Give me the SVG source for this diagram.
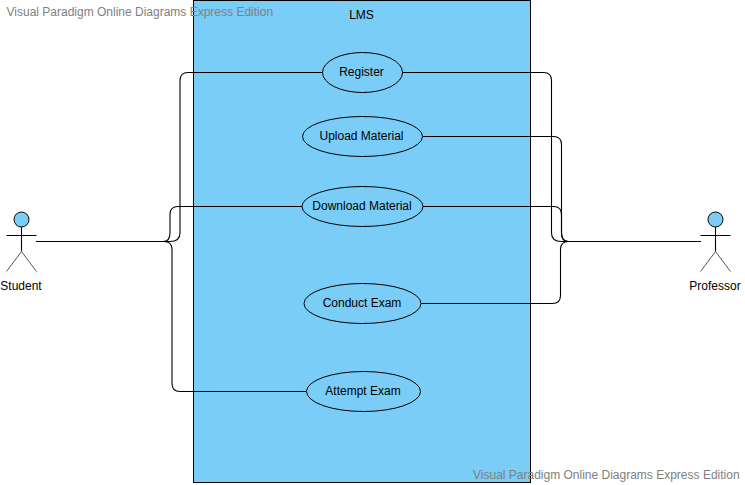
<svg xmlns="http://www.w3.org/2000/svg" width="745" height="485" viewBox="0 0 745 485">
<style>
text{font-family:"Liberation Sans",Arial,sans-serif;font-size:12px;fill:#000;text-anchor:middle}
.uc{fill:#79cdf6;stroke:#000;stroke-width:1}
.c{fill:none;stroke:#000;stroke-width:1.1}
.wm{fill:#808080;text-anchor:start}
.leg{fill:none;stroke:#555;stroke-width:1}
</style>
<rect width="745" height="485" fill="#fff"/>
<g id="system"><rect x="193.500" y="0.500" width="337" height="482" class="uc"/><text x="361.500" y="19">LMS</text></g>
<g id="connectors">
<path class="c" d="M36 241.500H170Q180 241.500 180 233V80.500Q180 72.500 188 72.500H322.500"/>
<path class="c" d="M36 241.500H163Q170 241.500 170 233V214.500Q170 206.500 178 206.500H302"/>
<path class="c" d="M36 241.500H164Q172 241.500 172 249.500V383.500Q172 391.500 180 391.500H306.500"/>
<path class="c" d="M701 241.500H561.500Q551.500 241.500 551.500 233V80.500Q551.500 72.500 543.500 72.500H402.500"/>
<path class="c" d="M701 241.500H568.500Q561.500 241.500 561.500 233V144.500Q561.500 136.500 553.500 136.500H422.500"/>
<path class="c" d="M701 241.500H568.500Q561.500 241.500 561.500 233V214.500Q561.500 206.500 553.500 206.500H423"/>
<path class="c" d="M701 241.500H568.500Q560.500 241.500 560.500 249.500V295.500Q560.500 303.500 552.500 303.500H421"/>
</g>
<g id="uc-register"><ellipse cx="362.500" cy="72.500" rx="40" ry="20" class="uc"/><text x="361.500" y="76">Register</text></g>
<g id="uc-upload"><ellipse cx="362.500" cy="136.500" rx="60" ry="20" class="uc"/><text x="361.500" y="140">Upload Material</text></g>
<g id="uc-download"><ellipse cx="362.500" cy="206.500" rx="60.500" ry="20" class="uc"/><text x="362" y="210">Download Material</text></g>
<g id="uc-conduct"><ellipse cx="362.500" cy="303.500" rx="58.500" ry="20" class="uc"/><text x="362" y="307">Conduct Exam</text></g>
<g id="uc-attempt"><ellipse cx="363.500" cy="391.500" rx="57" ry="20" class="uc"/><text x="363" y="395">Attempt Exam</text></g>
<g id="actor-student">
<circle cx="21.500" cy="219.500" r="7.500" class="uc"/>
<path class="c" d="M21.500 227V251.500M6.500 235.500H36.500"/>
<path class="leg" d="M21.500 251.500L6.500 271.500M21.500 251.500L36.500 271.500"/>
<text x="21" y="290">Student</text>
</g>
<g id="actor-professor">
<circle cx="715.500" cy="219.500" r="7.500" class="uc"/>
<path class="c" d="M715.500 227V251.500M700.500 235.500H730.500"/>
<path class="leg" d="M715.500 251.500L700.500 271.500M715.500 251.500L730.500 271.500"/>
<text x="715" y="290">Professor</text>
</g>
<text class="wm" x="6.500" y="16">Visual Paradigm Online Diagrams Express Edition</text>
<text class="wm" x="473" y="479">Visual Paradigm Online Diagrams Express Edition</text>
</svg>
